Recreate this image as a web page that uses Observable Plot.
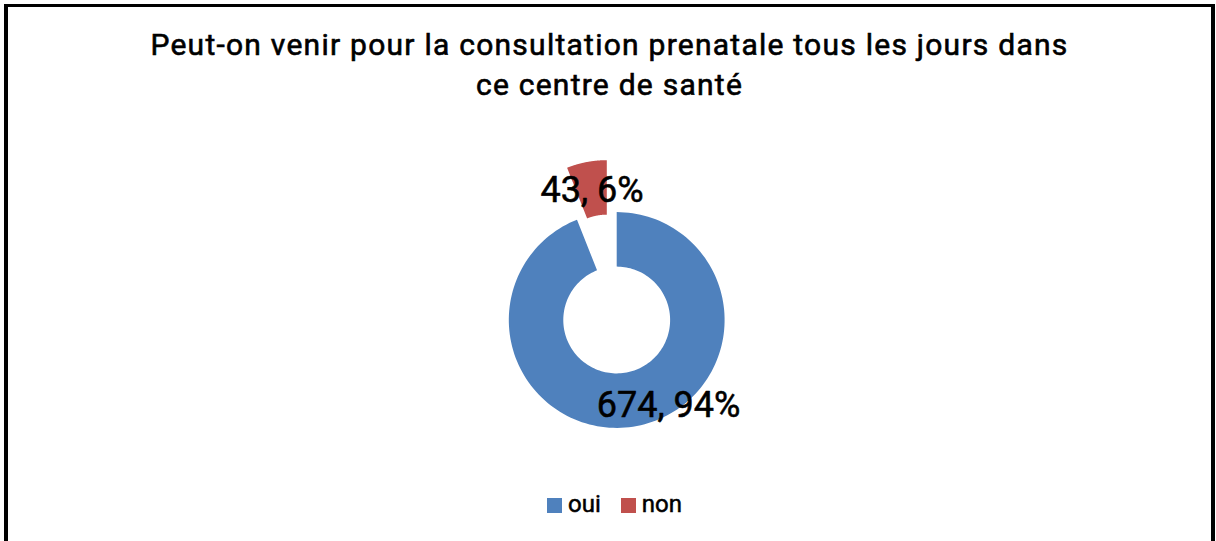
<!DOCTYPE html>
<html>
<head>
<meta charset="utf-8">
<script src="https://cdn.jsdelivr.net/npm/d3@7"></script>
<script src="https://cdn.jsdelivr.net/npm/@observablehq/plot@0.6"></script>
<style>
  html, body { margin: 0; padding: 0; background: #fff; overflow: hidden; }
  #root { position: relative; width: 1216px; height: 541px; overflow: hidden; font-family: Roboto, "Liberation Sans", sans-serif; }
  #frame { position: absolute; left: 4px; top: 4px; width: 1203px; height: 620px;
           border-left: 4px solid #000; border-top: 3px solid #000; border-right: 4px solid #000; }
  #title { position: absolute; left: 8px; width: 1203px; top: 25px; text-align: center;
           font-size: 30px; line-height: 40px; font-weight: 400; letter-spacing: 1.25px; color: #000;
           -webkit-text-stroke: 0.6px #000; }
  #chart { position: absolute; left: 0; top: 0; }
  #legend { position: absolute; top: 490px; left: 547px; display: flex; align-items: center;
            font-size: 24px; font-weight: 400; line-height: 28px; color: #000; -webkit-text-stroke: 0.5px #000; }
  .item { display: flex; align-items: center; margin-right: 20px; }
  .sw { width: 15px; height: 15px; margin-right: 6px; margin-top: 2px; }
</style>
</head>
<body>
<div id="root">
  <div id="frame"></div>
  <div id="title"></div>
  <div id="chart"></div>
  <div id="legend"></div>
</div>
<script>
// ---- data ----
const titleLines = ["Peut-on venir pour la consultation prenatale tous les jours dans", "ce centre de santé"];
const categories = ["oui", "non"];
const counts = [674, 43];
const percents = ["94%", "6%"];
const colors = ["#4F81BD", "#C0504D"];
const explode = [0, 0.49];      // slice pull-out, as fraction of outer radius
const innerRadius = 0.495;      // hole size, as fraction of outer radius

// ---- build geometry from data ----
const pie = d3.pie().sort(null).value(d => d)(counts);
const slices = [];
pie.forEach((p, i) => {
  const mid = (p.startAngle + p.endAngle) / 2;
  const ox = Math.sin(mid) * explode[i], oy = Math.cos(mid) * explode[i];
  const N = 160;
  for (let k = 0; k <= N; k++) {
    const a = p.startAngle + (p.endAngle - p.startAngle) * k / N;
    slices.push({cat: categories[i], x: ox + Math.sin(a), y: oy + Math.cos(a)});
  }
  for (let k = N; k >= 0; k--) {
    const a = p.startAngle + (p.endAngle - p.startAngle) * k / N;
    slices.push({cat: categories[i], x: ox + innerRadius * Math.sin(a), y: oy + innerRadius * Math.cos(a)});
  }
});

const labels = pie.map((p, i) => {
  const mid = (p.startAngle + p.endAngle) / 2;
  const r = i === 0 ? 0.93 : 1.22;
  return {cat: categories[i], text: `${counts[i]}, ${percents[i]}`, x: Math.sin(mid) * r, y: Math.cos(mid) * r};
});

document.getElementById("title").innerHTML = titleLines.join("<br>");

const labelFont = "Roboto, 'Liberation Sans', sans-serif";
const plot = Plot.plot({
  width: 1216,
  height: 541,
  margin: 0,
  style: {background: "transparent", overflow: "visible"},
  x: {domain: [-1, 1], range: [508.3, 724.1], axis: null},
  y: {domain: [-1, 1], range: [427.4, 211.6], axis: null},
  color: {domain: categories, range: colors},
  marks: [
    Plot.line(slices, {x: "x", y: "y", z: "cat", fill: "cat", stroke: null, curve: "linear"}),
    Plot.text(labels.filter(d => d.cat === "non"), {x: "x", y: "y", text: "text", fontSize: 36, fontWeight: 400,
      fill: "#000", stroke: "#000", strokeWidth: 0.55, textAnchor: "middle", lineAnchor: "middle", fontFamily: labelFont}),
    Plot.text(labels.filter(d => d.cat === "oui"), {x: "x", y: "y", text: "text", fontSize: 36, fontWeight: 400,
      fill: "#000", stroke: "#000", strokeWidth: 0.55, textAnchor: "middle", lineAnchor: "middle", dx: 33, dy: -13, fontFamily: labelFont})
  ]
});
document.getElementById("chart").appendChild(plot);

const legend = document.getElementById("legend");
categories.forEach((c, i) => {
  const item = document.createElement("div");
  item.className = "item";
  item.innerHTML = `<div class="sw" style="background:${colors[i]}"></div><span>${c}</span>`;
  legend.appendChild(item);
});
</script>
</body>
</html>
